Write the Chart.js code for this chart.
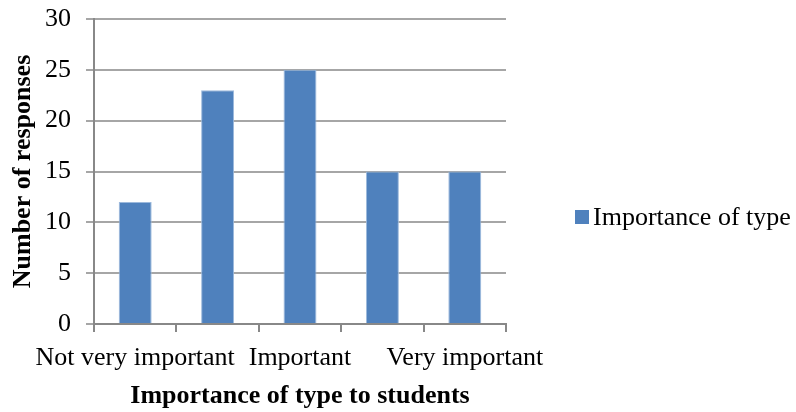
<!DOCTYPE html>
<html>
<head>
<meta charset="utf-8">
<script src="https://cdn.jsdelivr.net/npm/chart.js@4/dist/chart.umd.min.js"></script>
<style>
  html, body { margin: 0; padding: 0; background: #ffffff; }
  #wrap { width: 796px; height: 412px; }
</style>
</head>
<body>
<div id="wrap"><canvas id="chart" width="796" height="412"></canvas></div>
<script>
// Survey responses: how important the type is to students
const categories = ["Not very important", "", "Important", "", "Very important"];
const responses = [12, 23, 25, 15, 15];
const seriesName = "Importance of type";
const yTicks = [0, 5, 10, 15, 20, 25, 30];

const serif = "'Liberation Serif', 'Times New Roman', Times, serif";
const barBlue = "#4f81bd";

// Legend drawn beside the plot: one square swatch and the series name
const sideLegend = {
  id: "sideLegend",
  afterDraw(chart) {
    const ctx = chart.ctx;
    const ds = chart.data.datasets[0];
    ctx.save();
    ctx.fillStyle = ds.backgroundColor;
    ctx.fillRect(575, 210, 14, 14);
    ctx.fillStyle = "#000000";
    ctx.font = "26px " + serif;
    ctx.textBaseline = "middle";
    ctx.textAlign = "left";
    ctx.fillText(ds.label, 593, 218);
    ctx.restore();
  }
};

new Chart(document.getElementById("chart"), {
  type: "bar",
  data: {
    labels: categories,
    datasets: [{
      label: seriesName,
      data: responses,
      backgroundColor: barBlue,
      borderColor: "#9cb9dc",
      borderWidth: 1,
      categoryPercentage: 1.0,
      barPercentage: 0.4
    }]
  },
  options: {
    responsive: false,
    animation: false,
    layout: { padding: { top: 19, right: 290, left: 0, bottom: 0 } },
    plugins: {
      legend: { display: false },
      tooltip: { enabled: false }
    },
    scales: {
      x: {
        offset: true,
        grid: {
          offset: true,
          drawOnChartArea: false,
          drawTicks: true,
          tickLength: 8,
          color: "#888888",
          lineWidth: 2
        },
        border: { color: "#888888", width: 2 },
        ticks: {
          autoSkip: false,
          maxRotation: 0,
          minRotation: 0,
          padding: 11,
          color: "#000000",
          font: { family: serif, size: 26 }
        },
        title: {
          display: true,
          text: "Importance of type to students",
          color: "#000000",
          font: { family: serif, size: 26, weight: "bold" },
          padding: { top: 4, bottom: 0 }
        },
        afterFit(scale) {
          scale.height = 88;
          scale.paddingLeft = 0;
          scale.paddingRight = 0;
        }
      },
      y: {
        min: 0,
        max: 30,
        afterBuildTicks(scale) { scale.ticks = yTicks.map(v => ({ value: v })); },
        grid: {
          color: "#a6a6a6",
          lineWidth: 2,
          tickLength: 8
        },
        border: { color: "#888888", width: 2 },
        ticks: {
          padding: 15,
          color: "#000000",
          font: { family: serif, size: 26 }
        },
        title: {
          display: true,
          text: "Number of responses",
          color: "#000000",
          font: { family: serif, size: 26, weight: "bold" },
          padding: { top: 8, bottom: 0 }
        },
        afterFit(scale) {
          scale.width = 94;
          scale.paddingTop = 0;
          scale.paddingBottom = 0;
        }
      }
    }
  },
  plugins: [sideLegend]
});
</script>
</body>
</html>
